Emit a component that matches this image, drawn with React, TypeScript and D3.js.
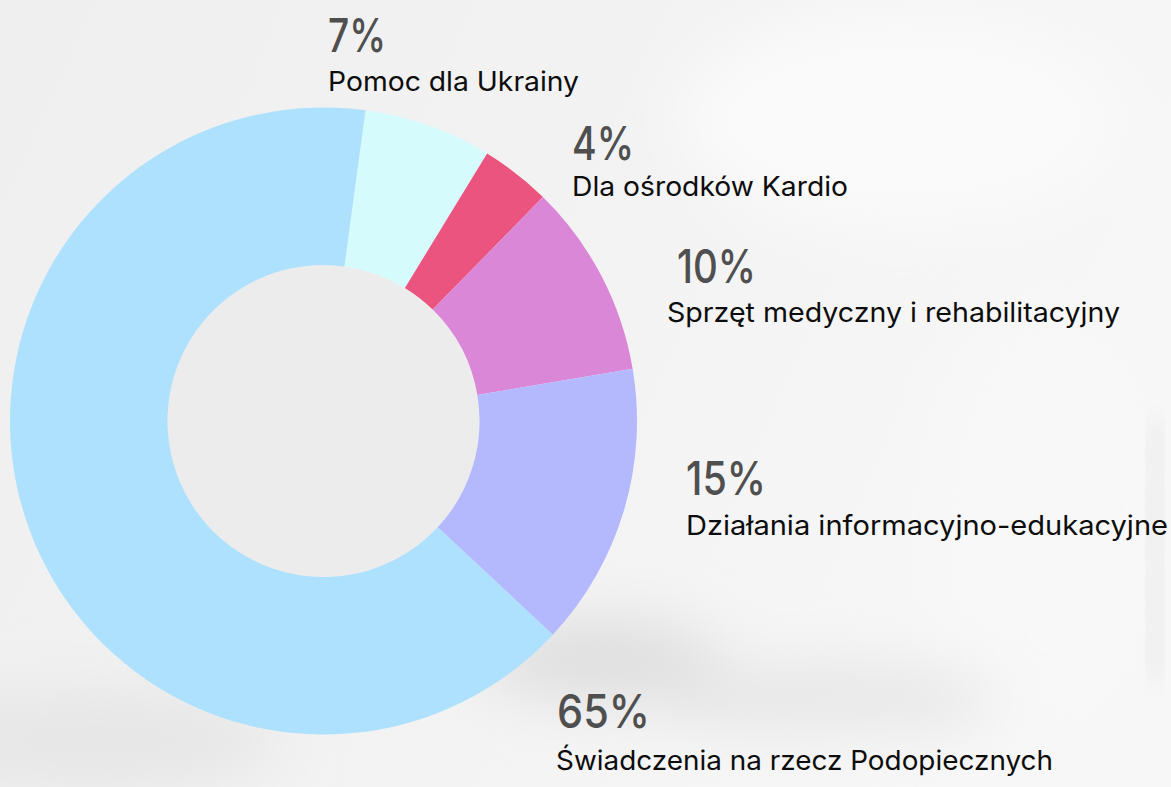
import React from "react";
import * as d3 from "d3";

const categories = [
  "Pomoc dla Ukrainy",
  "Dla ośrodków Kardio",
  "Sprzęt medyczny i rehabilitacyjny",
  "Działania informacyjno-edukacyjne",
  "Świadczenia na rzecz Podopiecznych",
];
const percentLabels = ["7%", "4%", "10%", "15%", "65%"];
// slice shares as drawn in the picture
const values = [6.6, 3.6, 10.0, 14.6, 65.2];
const colors = ["#D5FBFD", "#EB547E", "#DA87D8", "#B4B9FE", "#ADE1FD"];

// label layout (x, baseline of percent, baseline of text, widths)
const labelPos = [
  { x: 328, py: 52, ty: 91, pw: 58, tw: 251 },
  { x: 572, py: 160, ty: 196, pw: 62, tw: 276 },
  { x: 677, py: 283, ty: 322, pw: 79, tw: 453, tx: 667 },
  { x: 686, py: 495, ty: 535, pw: 80, tw: 482 },
  { x: 557, py: 728, ty: 770, pw: 93, tw: 497, tx: 556 },
];

const W = 1171;
const H = 787;

export default function App() {
  const cx = 323.5;
  const cy = 421;
  const outerR = 313.5;
  const innerR = 156;
  const start = (7.7 * Math.PI) / 180;

  const pie = d3
    .pie<number>()
    .sort(null)
    .value((d) => d)
    .startAngle(start)
    .endAngle(start + 2 * Math.PI);
  const arcs = pie(values);
  const arc = d3.arc<d3.PieArcDatum<number>>().innerRadius(innerR).outerRadius(outerR);

  return (
    <svg
      width={W}
      height={H}
      style={{ position: "fixed", left: 0, top: 0, display: "block" }}
      xmlns="http://www.w3.org/2000/svg"
    >
      <defs>
        <linearGradient id="bg" x1="0" y1="0" x2="1" y2="0.3">
          <stop offset="0" stopColor="#efefef" />
          <stop offset="0.6" stopColor="#f3f3f3" />
          <stop offset="1" stopColor="#f7f7f7" />
        </linearGradient>
        <filter id="blur" x="-50%" y="-50%" width="200%" height="200%">
          <feGaussianBlur stdDeviation="30" />
        </filter>
        <filter id="blur2" x="-50%" y="-50%" width="200%" height="200%">
          <feGaussianBlur stdDeviation="12" />
        </filter>
      </defs>
      <rect x={0} y={0} width={W} height={H} fill="url(#bg)" />
      <g filter="url(#blur)">
        <ellipse cx={900} cy={120} rx={220} ry={110} fill="#fafafa" />
        <ellipse cx={1050} cy={520} rx={120} ry={220} fill="#f8f8f8" />
        <ellipse cx={600} cy={660} rx={120} ry={40} fill="#dedede" />
        <ellipse cx={820} cy={700} rx={180} ry={35} fill="#e6e6e6" />
        <ellipse cx={100} cy={740} rx={180} ry={50} fill="#e6e6e6" />
        <ellipse cx={900} cy={760} rx={250} ry={30} fill="#f7f7f7" />
      </g>
      <g filter="url(#blur2)">
        <rect x={1150} y={420} width={10} height={260} fill="#e2e2e2" />
      </g>

      <circle cx={cx} cy={cy} r={innerR} fill="#ececec" />
      <g transform={`translate(${cx},${cy})`}>
        {arcs.map((a, i) => (
          <path key={i} d={arc(a) as string} fill={colors[i]} />
        ))}
      </g>

      {categories.map((c, i) => {
        const p = labelPos[i];
        return (
          <g key={c}>
            <text
              x={p.x}
              y={p.py}
              fontFamily="Inter, 'DejaVu Sans', sans-serif"
              fontSize={47}
              fontWeight={500}
              fill="#4f4f4f"
              textLength={p.pw}
              lengthAdjust="spacingAndGlyphs"
            >
              {percentLabels[i]}
            </text>
            <text
              x={p.tx ?? p.x}
              y={p.ty}
              fontFamily="Inter, 'DejaVu Sans', sans-serif"
              fontSize={27}
              fontWeight={400}
              fill="#0d0d0d"
              textLength={p.tw}
              lengthAdjust="spacingAndGlyphs"
            >
              {c}
            </text>
          </g>
        );
      })}
    </svg>
  );
}
